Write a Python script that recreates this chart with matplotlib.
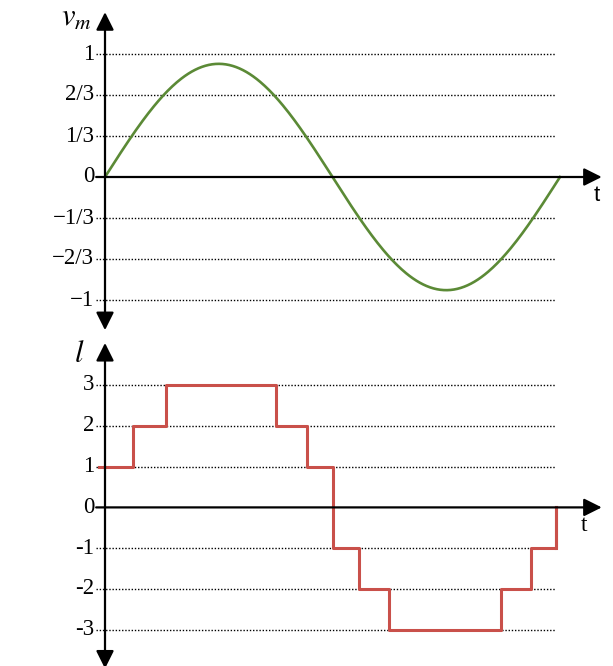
import matplotlib.pyplot as plt
import numpy as np

# datos: angulo en grados (0..360 = un periodo)
amp = 0.92
t_sin = np.linspace(0, 360, 400)
v_m = amp * np.sin(np.radians(t_sin))

# escalera: instantes de cambio y niveles
t_step = [-5, 22, 48, 135, 160, 180, 201, 225, 313, 337, 357]
l_step = [1, 2, 3, 2, 1, -1, -2, -3, -2, -1, 0]

vm_ticks = [1, 2/3, 1/3, 0, -1/3, -2/3, -1]
vm_labels = ['1', '2/3', '1/3', '0', '\u22121/3', '\u22122/3', '\u22121']
l_ticks = [3, 2, 1, 0, -1, -2, -3]
l_labels = ['3', '2', '1', '0', '-1', '-2', '-3']

W, H = 613, 666
fig = plt.figure(figsize=(W/100, H/100), dpi=100)
plt.rcParams['font.family'] = 'Liberation Serif'

pxx = 455/360.  # pixeles por grado
x0 = 105        # pixel del eje vertical
xl = (-x0/pxx, (W-x0)/pxx)

green = '#5b8a36'
red = '#c9504a'
arrow = dict(arrowstyle='-|>', color='black', lw=1.6, mutation_scale=27, shrinkA=0, shrinkB=0)
arrow2 = dict(arrowstyle='<|-|>', color='black', lw=1.6, mutation_scale=27, shrinkA=0, shrinkB=0)

def panel(top_px, bot_px, y0_px, spu, ticks, labels):
    ax = fig.add_axes([0, 1-bot_px/H, 1, (bot_px-top_px)/H])
    ax.set_xlim(*xl)
    ax.set_ylim((y0_px-bot_px)/spu, (y0_px-top_px)/spu)
    ax.axis('off')
    for v, s in zip(ticks, labels):
        if v != 0:
            ax.plot([-7, 357], [v, v], color='black', lw=1.0, ls=(0, (1.0, 1.3)))
        ax.text(-8.5, v, s, ha='right', va='center', fontsize=16.5)
    return ax

# panel superior
ax1 = panel(0, 335, 177, 123., vm_ticks, vm_labels)
ax1.plot(t_sin, v_m, color=green, lw=1.9)
ax1.annotate('', xy=(393, 0), xytext=(-7, 0), arrowprops=arrow)
ax1.annotate('', xy=(0, 1.34), xytext=(0, -1.245), arrowprops=arrow2)
ax1.text(-11, 1.29, r'$v_m$', ha='right', va='center', fontsize=22,
         math_fontfamily='stix')
ax1.text(389, -0.15, 't', ha='center', va='center', fontsize=16, family='Liberation Sans')

# panel inferior
ax2 = panel(335, 666, 507.4, 40.8, l_ticks, l_labels)
ax2.step(t_step, l_step, where='post', color=red, lw=2.2)
ax2.plot([t_step[-1], t_step[-1]], [l_step[-2], l_step[-1]], color=red, lw=2.2)
ax2.annotate('', xy=(393, 0), xytext=(-7, 0), arrowprops=arrow)
ax2.annotate('', xy=(0, 4.03), xytext=(0, -3.95), arrowprops=arrow2)
ax2.text(-16, 3.75, r'$l$', ha='right', va='center', fontsize=22, math_fontfamily='stix')
ax2.text(379, -0.45, 't', ha='center', va='center', fontsize=17)

fig.savefig('out.png', dpi=100)
